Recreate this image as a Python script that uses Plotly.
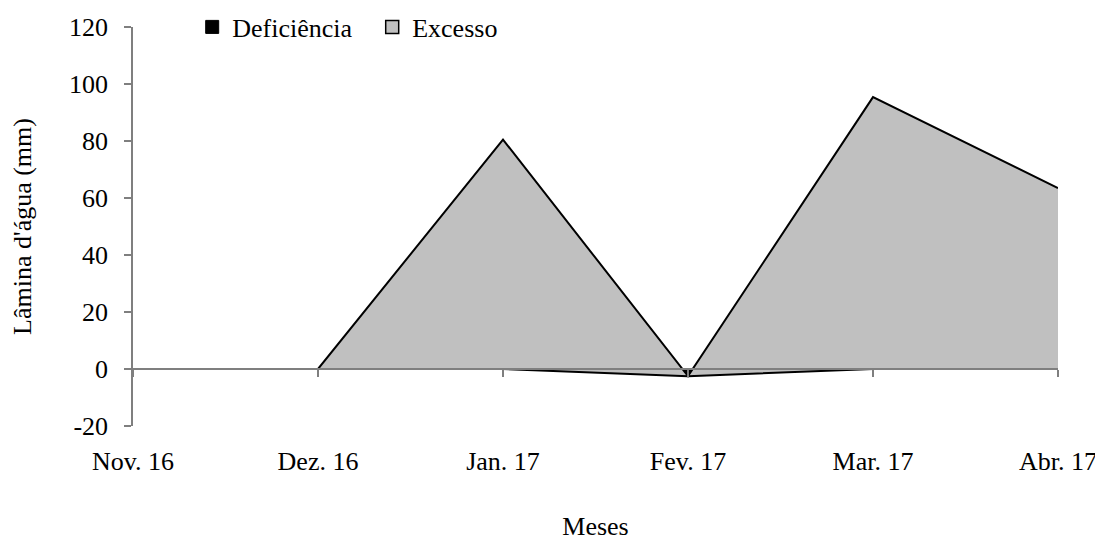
import plotly.graph_objects as go

meses = ["Nov. 16", "Dez. 16", "Jan. 17", "Fev. 17", "Mar. 17", "Abr. 17"]
deficiencia = [0, 0, 0, -2.5, 0, 0]
excesso = [0, 0, 80.5, 0, 95.4, 63.5]
y_ticks = [-20, 0, 20, 40, 60, 80, 100, 120]
y_tick_labels = ["-20", "0", "20", "40", "60", "80", "100", "120"]

FONT = "Liberation Serif"
FS = 26
AXC = "#7f7f7f"

fig = go.Figure()
fig.add_trace(go.Scatter(
    x=meses, y=deficiencia, name="Deficiência", mode="lines",
    stackgroup="one", line=dict(color="black", width=2),
    fillcolor="black", showlegend=False,
))
fig.add_trace(go.Scatter(
    x=meses, y=excesso, name="Excesso", mode="lines",
    stackgroup="one", line=dict(color="black", width=2),
    fillcolor="#c0c0c0", showlegend=False,
))
# legend keys (no data)
fig.add_trace(go.Scatter(
    x=[None], y=[None], name="Deficiência", mode="markers",
    marker=dict(symbol="square", size=13, color="black",
                line=dict(color="black", width=1)),
))
fig.add_trace(go.Scatter(
    x=[None], y=[None], name="Excesso", mode="markers",
    marker=dict(symbol="square", size=13, color="#c0c0c0",
                line=dict(color="black", width=1.5)),
))

fig.update_layout(
    width=1095, height=533,
    margin=dict(l=125, r=45, t=19, b=115, autoexpand=False),
    paper_bgcolor="white", plot_bgcolor="white",
    font=dict(family=FONT, size=FS, color="black"),
    showlegend=True,
    legend=dict(orientation="h", x=0.064, y=1.0, xanchor="left", yanchor="middle",
                font=dict(family=FONT, size=FS), bgcolor="rgba(0,0,0,0)",
                traceorder="normal", itemwidth=30, entrywidth=135),
    xaxis=dict(
        type="category", range=[0, 5], anchor="free", position=20/140,
        showline=True, linecolor=AXC, linewidth=1.5, automargin=False,
        ticks="outside", ticklen=7, tickcolor=AXC, tickwidth=1.5,
        showgrid=False, ticklabelstandoff=62,
        tickfont=dict(family=FONT, size=FS),
        title=dict(text="Meses", font=dict(family=FONT, size=FS), standoff=48),
    ),
    yaxis=dict(
        range=[-20, 120], tickvals=y_ticks, ticktext=y_tick_labels,
        showgrid=False, zeroline=False, automargin=False,
        showline=True, linecolor=AXC, linewidth=1.5,
        ticks="outside", ticklen=7, tickcolor=AXC, tickwidth=1.5,
        ticklabelstandoff=11,
        tickfont=dict(family=FONT, size=FS),
        title=dict(text="Lâmina d'água (mm)", font=dict(family=FONT, size=FS), standoff=30),
    ),
)

fig.write_html("out.html")
